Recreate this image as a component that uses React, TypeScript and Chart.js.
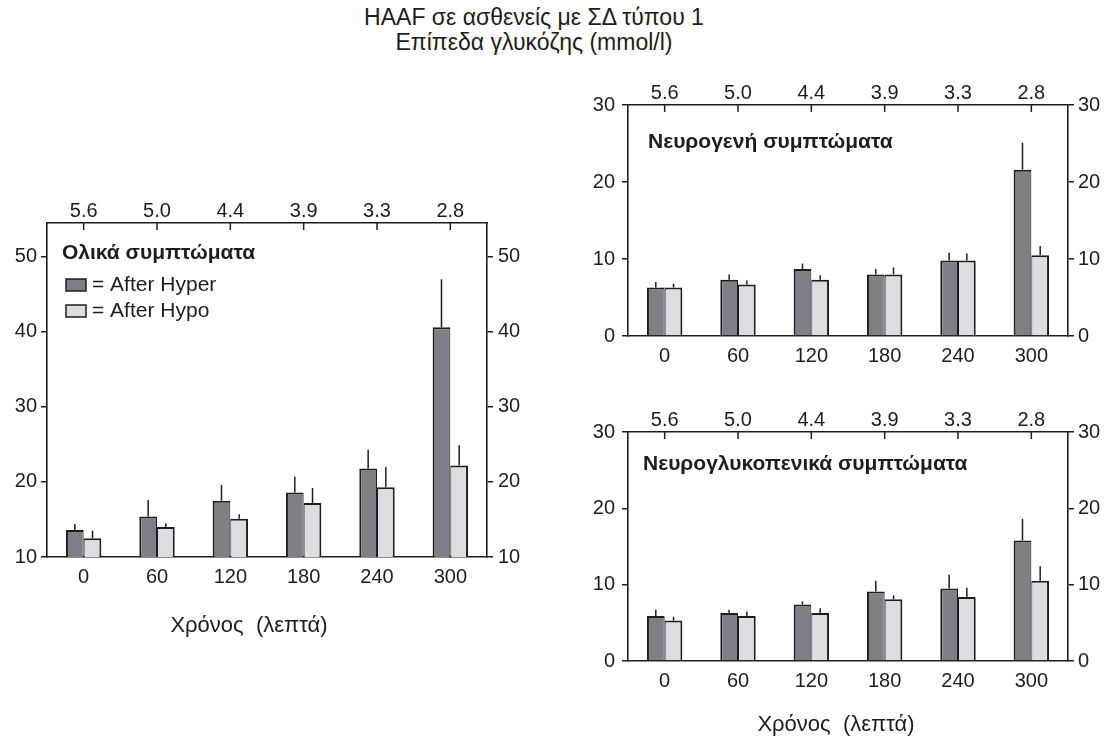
import React, { useEffect, useRef } from 'react';
import { Chart, registerables } from 'chart.js';

Chart.register(...registerables);

// ---------- data ----------
const timeLabels = ['0', '60', '120', '180', '240', '300'];
const glucoseLabels = ['5.6', '5.0', '4.4', '3.9', '3.3', '2.8'];
const seriesLabels = ['After Hyper', 'After Hypo'];

// Ολικά συμπτώματα (total symptoms)
const totalHyper = [13.6, 15.4, 17.5, 18.6, 21.8, 40.6];
const totalHyperSem = [0.8, 2.2, 2.1, 2.1, 2.5, 6.4];
const totalHypo = [12.5, 14.0, 15.1, 17.2, 19.3, 22.2];
const totalHypoSem = [1.0, 0.5, 0.6, 2.0, 2.7, 2.7];

// Νευρογενή συμπτώματα (neurogenic)
const neuroHyper = [6.3, 7.3, 8.7, 8.0, 9.8, 21.6];
const neuroHyperSem = [0.7, 0.7, 0.7, 0.7, 1.0, 3.5];
const neuroHypo = [6.3, 6.7, 7.3, 8.0, 9.8, 10.5];
const neuroHypoSem = [0.5, 0.5, 0.6, 0.9, 0.9, 1.2];

// Νευρογλυκοπενικά συμπτώματα (neuroglycopenic)
const glycoHyper = [5.9, 6.3, 7.4, 9.1, 9.5, 15.8];
const glycoHyperSem = [0.8, 0.4, 0.4, 1.4, 1.8, 2.8];
const glycoHypo = [5.3, 5.9, 6.3, 8.1, 8.4, 10.5];
const glycoHypoSem = [0.5, 0.6, 0.6, 0.5, 1.2, 1.9];

const mainTitle = ['HAAF σε ασθενείς με ΣΔ τύπου 1', 'Επίπεδα γλυκόζης (mmol/l)'];
const xAxisTitle = 'Χρόνος  (λεπτά)';

// ---------- styles ----------
const FONT = '"Liberation Sans", Arial, Helvetica, sans-serif';
const INK = '#1d1d1d';
const HYPER_FILL = '#7e8085';
const HYPO_FILL = '#dcdde0';
const TICK_SIZE = 20;

const errorBarsPlugin = {
  id: 'errorBars',
  afterDatasetsDraw(chart: any, _args: any, opts: any) {
    const errs = opts.errors;
    if (!errs) return;
    const ctx = chart.ctx;
    const ys = chart.scales.y;
    ctx.save();
    ctx.strokeStyle = INK;
    ctx.lineWidth = 1.5;
    chart.data.datasets.forEach((ds: any, i: number) => {
      const meta = chart.getDatasetMeta(i);
      meta.data.forEach((el: any, j: number) => {
        const yTop = ys.getPixelForValue(ds.data[j] + errs[i][j]);
        ctx.beginPath();
        ctx.moveTo(el.x, el.y);
        ctx.lineTo(el.x, yTop);
        ctx.stroke();
      });
    });
    ctx.restore();
  },
};

const innerTicksPlugin = {
  id: 'innerTicks',
  afterDraw(chart: any, _args: any, opts: any) {
    const s = chart.scales.x2;
    if (!s) return;
    const ctx = chart.ctx;
    const top = chart.chartArea.top;
    ctx.save();
    ctx.strokeStyle = INK;
    ctx.lineWidth = 1.5;
    s.ticks.forEach((_t: any, i: number) => {
      const x = s.getPixelForTick(i);
      ctx.beginPath();
      ctx.moveTo(x, top);
      ctx.lineTo(x, top + (opts.length || 7));
      ctx.stroke();
    });
    ctx.restore();
  },
};

const panelTextPlugin = {
  id: 'panelText',
  afterDraw(chart: any, _args: any, opts: any) {
    const ctx = chart.ctx;
    const { left, top, right, bottom } = chart.chartArea;
    ctx.save();
    ctx.fillStyle = INK;
    ctx.textBaseline = 'middle';
    ctx.textAlign = 'left';
    if (opts.title) {
      ctx.font = `bold ${opts.titleSize}px ${FONT}`;
      ctx.fillText(opts.title, left + opts.titleDx, top + opts.titleDy);
    }
    if (opts.legend) {
      chart.data.datasets.forEach((ds: any, i: number) => {
        const y = top + opts.legendDy + i * opts.legendGap;
        const x = left + opts.legendDx;
        ctx.fillStyle = ds.backgroundColor;
        ctx.fillRect(x, y, 20, 12);
        ctx.strokeStyle = INK;
        ctx.lineWidth = 1.5;
        ctx.strokeRect(x, y, 20, 12);
        ctx.fillStyle = INK;
        ctx.font = `${opts.legendSize}px ${FONT}`;
        ctx.fillText('= ' + ds.label, x + 26, y + 6.5);
      });
    }
    if (opts.xTitle) {
      ctx.textAlign = 'center';
      ctx.font = `${opts.xTitleSize}px ${FONT}`;
      ctx.fillText(opts.xTitle, (left + right) / 2 + opts.xTitleDx, bottom + opts.xTitleDy);
    }
    ctx.restore();
  },
};

interface PanelCfg {
  hyper: number[];
  hyperSem: number[];
  hypo: number[];
  hypoSem: number[];
  yMin: number;
  yMax: number;
  yW: number;
  y2W: number;
  x2H: number;
  xH: number;
  title: string;
  titleDx: number;
  titleDy: number;
  legend: boolean;
  xTitle?: string;
  xTitleDx?: number;
  xTitleDy?: number;
  yPad: number;
  y2Pad: number;
}

function keepTens(s: any) {
  s.ticks = s.ticks.filter((t: any) => Math.abs(t.value % 10) < 1e-6);
}

function makeChart(canvas: HTMLCanvasElement, p: PanelCfg) {
  const tickFont = { family: FONT, size: TICK_SIZE };
  return new Chart(canvas, {
    type: 'bar',
    data: {
      labels: timeLabels,
      datasets: [
        {
          label: seriesLabels[0],
          data: p.hyper,
          backgroundColor: HYPER_FILL,
          borderColor: INK,
          borderWidth: { top: 2, left: 2, right: 1, bottom: 0 },
          barPercentage: 1.0,
          categoryPercentage: 0.483,
        },
        {
          label: seriesLabels[1],
          data: p.hypo,
          backgroundColor: HYPO_FILL,
          borderColor: INK,
          borderWidth: { top: 2, left: 1, right: 2, bottom: 0 },
          barPercentage: 1.0,
          categoryPercentage: 0.483,
        },
      ],
    },
    options: {
      responsive: false,
      animation: false,
      devicePixelRatio: 1,
      layout: { padding: 0 },
      plugins: {
        legend: { display: false },
        tooltip: { enabled: false },
        title: { display: false },
        errorBars: { errors: [p.hyperSem, p.hypoSem] },
        innerTicks: { length: 7 },
        panelText: {
          title: p.title,
          titleSize: 21,
          titleDx: p.titleDx,
          titleDy: p.titleDy,
          legend: p.legend,
          legendDx: 19,
          legendDy: 56,
          legendGap: 26,
          legendSize: 21,
          xTitle: p.xTitle,
          xTitleSize: 22,
          xTitleDx: p.xTitleDx,
          xTitleDy: p.xTitleDy,
        },
      } as any,
      scales: {
        x: {
          type: 'category',
          position: 'bottom',
          offset: true,
          grid: { display: false, drawTicks: false },
          border: { display: true, color: INK, width: 1.6 },
          ticks: { font: tickFont, color: INK, padding: 8, maxRotation: 0 },
          afterFit: (s: any) => { s.height = p.xH; },
        },
        x2: {
          type: 'category',
          position: 'top',
          labels: glucoseLabels,
          offset: true,
          grid: { display: false, drawTicks: false },
          border: { display: true, color: INK, width: 1.6 },
          ticks: { font: tickFont, color: INK, padding: 0, maxRotation: 0 },
          afterFit: (s: any) => { s.height = p.x2H; },
        },
        y: {
          type: 'linear',
          position: 'left',
          min: p.yMin,
          max: p.yMax,
          ticks: { stepSize: 10, font: tickFont, color: INK, padding: p.yPad },
          grid: { display: true, drawOnChartArea: false, drawTicks: true, tickLength: 6, color: INK, lineWidth: 1.5 },
          border: { display: true, color: INK, width: 1.6 },
          afterBuildTicks: keepTens,
          afterFit: (s: any) => { s.width = p.yW; },
        },
        y2: {
          type: 'linear',
          position: 'right',
          min: p.yMin,
          max: p.yMax,
          ticks: { stepSize: 10, font: tickFont, color: INK, padding: p.y2Pad },
          grid: { display: true, drawOnChartArea: false, drawTicks: true, tickLength: 6, color: INK, lineWidth: 1.5 },
          border: { display: true, color: INK, width: 1.6 },
          afterBuildTicks: keepTens,
          afterFit: (s: any) => { s.width = p.y2W; },
        },
      } as any,
    },
    plugins: [errorBarsPlugin, innerTicksPlugin, panelTextPlugin],
  } as any);
}

const canvasBox = {
  total: { left: 0, top: 180, width: 530, height: 470 },
  neuro: { left: 570, top: 60, width: 537, height: 312 },
  glyco: { left: 570, top: 385, width: 537, height: 357 },
};

export default function App() {
  const totalRef = useRef<HTMLCanvasElement>(null);
  const neuroRef = useRef<HTMLCanvasElement>(null);
  const glycoRef = useRef<HTMLCanvasElement>(null);

  useEffect(() => {
    const charts: Chart[] = [];
    if (totalRef.current) {
      charts.push(
        makeChart(totalRef.current, {
          hyper: totalHyper, hyperSem: totalHyperSem, hypo: totalHypo, hypoSem: totalHypoSem,
          yMin: 10, yMax: 54.5,
          yW: 47, y2W: 43, x2H: 43, xH: 93,
          title: 'Ολικά συμπτώματα', titleDx: 15, titleDy: 30, legend: true,
          xTitle: xAxisTitle, xTitleDx: -18, xTitleDy: 69,
          yPad: 4, y2Pad: 5,
        })
      );
    }
    if (neuroRef.current) {
      charts.push(
        makeChart(neuroRef.current, {
          hyper: neuroHyper, hyperSem: neuroHyperSem, hypo: neuroHypo, hypoSem: neuroHypoSem,
          yMin: 0, yMax: 30,
          yW: 58, y2W: 39, x2H: 45, xH: 36,
          title: 'Νευρογενή συμπτώματα', titleDx: 20, titleDy: 37, legend: false,
          yPad: 7, y2Pad: 4,
        })
      );
    }
    if (glycoRef.current) {
      charts.push(
        makeChart(glycoRef.current, {
          hyper: glycoHyper, hyperSem: glycoHyperSem, hypo: glycoHypo, hypoSem: glycoHypoSem,
          yMin: 0, yMax: 30,
          yW: 58, y2W: 39, x2H: 47, xH: 81,
          title: 'Νευρογλυκοπενικά συμπτώματα', titleDx: 15, titleDy: 32, legend: false,
          xTitle: xAxisTitle, xTitleDx: -12, xTitleDy: 64,
          yPad: 7, y2Pad: 4,
        })
      );
    }
    return () => charts.forEach((c) => c.destroy());
  }, []);

  const cStyle = (b: { left: number; top: number; width: number; height: number }) => ({
    position: 'absolute' as const,
    left: b.left,
    top: b.top,
    width: b.width,
    height: b.height,
    display: 'block',
  });

  return (
    <div style={{ position: 'fixed', left: 0, top: 0, width: 1107, height: 742, background: '#fff', overflow: 'hidden' }}>
      <div
        style={{
          position: 'absolute', left: 0, top: 5, width: 1068, textAlign: 'center',
          fontFamily: FONT, fontSize: 23, lineHeight: '25px', color: INK,
        }}
      >
        <div>{mainTitle[0]}</div>
        <div>{mainTitle[1]}</div>
      </div>
      <canvas ref={totalRef} width={canvasBox.total.width} height={canvasBox.total.height} style={cStyle(canvasBox.total)} />
      <canvas ref={neuroRef} width={canvasBox.neuro.width} height={canvasBox.neuro.height} style={cStyle(canvasBox.neuro)} />
      <canvas ref={glycoRef} width={canvasBox.glyco.width} height={canvasBox.glyco.height} style={cStyle(canvasBox.glyco)} />
    </div>
  );
}
